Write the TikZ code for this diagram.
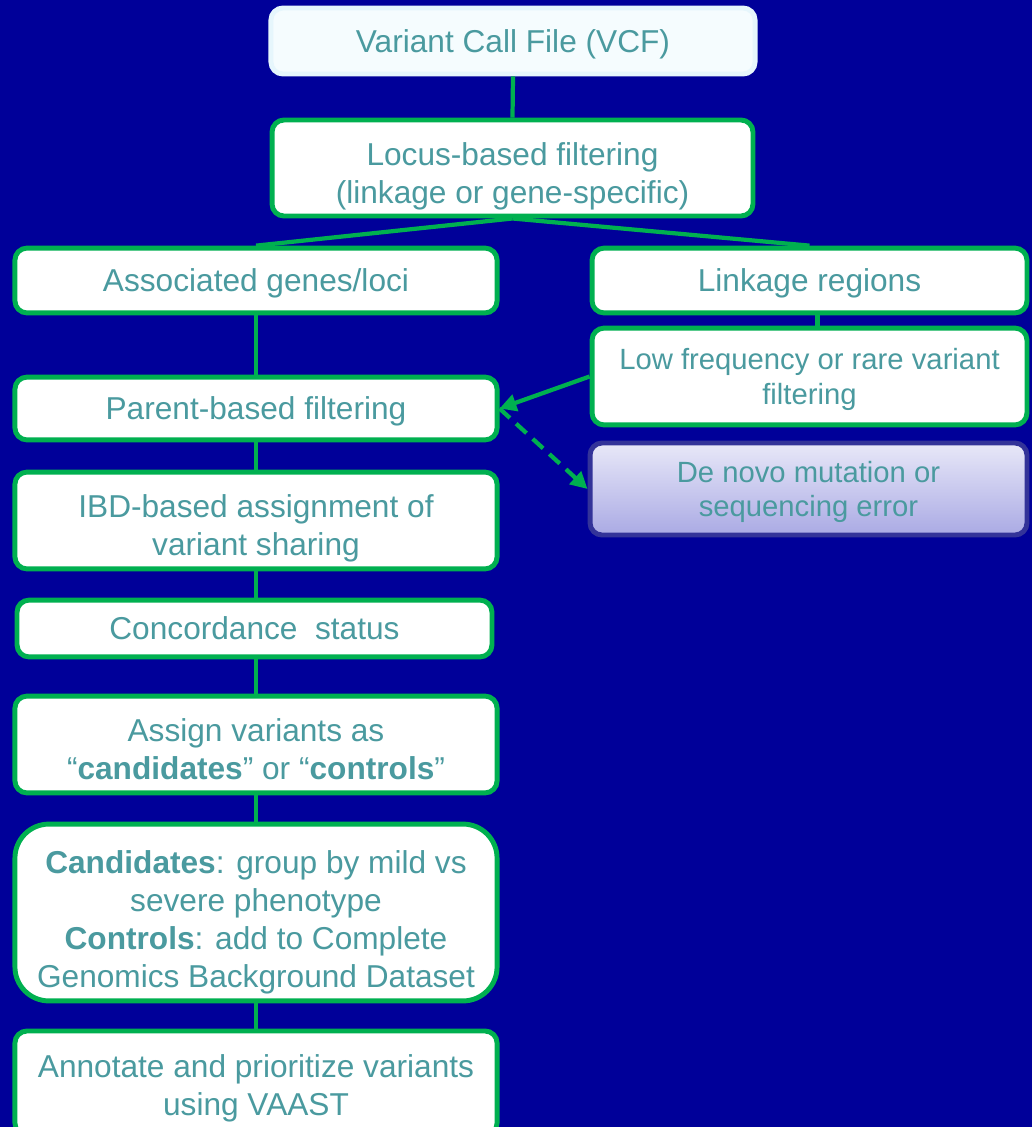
\documentclass[tikz,border=0pt]{standalone}
\usepackage{fontspec}
\setmainfont{Liberation Sans}
\usepackage{xcolor}
\usepackage{tikz}
\usetikzlibrary{calc,arrows.meta}

\definecolor{slidebg}{HTML}{000099}
\definecolor{boxgreen}{HTML}{00B050}
\definecolor{boxtext}{HTML}{4A9A9F}
\definecolor{denovoedge}{HTML}{333399}
\definecolor{denovotop}{HTML}{E8E8F8}
\definecolor{denovobottom}{HTML}{AAAAE4}

\begin{document}
\begin{tikzpicture}[x=0.025cm,y=-0.025cm,
    font=\fontsize{22.5}{27}\selectfont,
    stepbox/.style={draw=boxgreen, line width=3.5pt, fill=white, rounded corners=0.3cm,
      text=boxtext, align=center, inner sep=0pt, text depth=0pt},
    twolines/.style={text height=50pt},
    fourlines/.style={text height=106.5pt},
    smalltext/.style={font=\fontsize{20.8}{24.5}\selectfont},
    link/.style={draw=boxgreen, line width=3pt}]
  \fill[slidebg] (0,0) rectangle (1032,1127);
  \useasboundingbox (0,0) rectangle (1032,1127);

  \node[draw=black!8!cyan!10, fill=cyan!4, line width=3.5pt, rounded corners=0.3cm,
    text=boxtext, text depth=0pt, minimum width=12.1cm, minimum height=1.65cm] (vcf) at (513,41) {Variant Call File (VCF)};
  \node[stepbox, twolines, minimum width=12.02cm, minimum height=2.4cm] (locus) at (512.5,168)
    {Locus-based filtering\\(linkage or gene-specific)};
  \node[stepbox, minimum width=12.05cm, minimum height=1.62cm] (assoc) at (256,280.5) {Associated genes/loci};
  \node[stepbox, minimum width=10.87cm, minimum height=1.62cm] (linkage) at (809.5,280.5) {Linkage regions};
  \node[stepbox, smalltext, minimum width=10.87cm, minimum height=2.42cm] (lowfreq) at (809.5,376.5)
    {Low frequency or rare variant\\filtering};
  \node[stepbox, minimum width=12.05cm, minimum height=1.57cm] (parent) at (256,408.5) {Parent-based filtering};
  \node[draw=denovoedge, line width=3.5pt, top color=denovotop, bottom color=denovobottom, rounded corners=0.3cm,
    smalltext, text depth=0pt, text=boxtext, align=center, minimum width=10.92cm, minimum height=2.3cm] (denovo) at (808.5,489)
    {De novo mutation or\\sequencing error};
  \node[stepbox, twolines, minimum width=12.05cm, minimum height=2.42cm] (ibd) at (256,520.5)
    {IBD-based assignment of\\variant sharing};
  \node[stepbox, minimum width=11.87cm, minimum height=1.42cm] (concord) at (254.5,628.5) {Concordance\ \ status};
  \node[stepbox, twolines, text height=49.5pt, minimum width=12.05cm, minimum height=2.42cm] (assign) at (256,744.5)
    {Assign variants as\\“\textbf{candidates}” or “\textbf{controls}”};
  \node[stepbox, fourlines, rounded corners=0.85cm, minimum width=12.05cm, minimum height=4.42cm] (cand) at (256,912.5)
    {\textbf{Candidates}: group by mild vs\\severe phenotype\\\textbf{Controls}: add to Complete\\Genomics Background Dataset};
  \node[stepbox, text height=46pt, minimum width=12.05cm, minimum height=2.6cm] (annot) at (256,1083)
    {Annotate and prioritize variants\\using VAAST};

  \draw[link] (vcf.south) -- (locus.north);
  \draw[link] (locus.south) -- (assoc.north);
  \draw[link] (locus.south) -- (linkage.north);
  \draw[link] (assoc.south) -- (assoc.south |- parent.north);
  \draw[link] ($(linkage.south)+(8,0)$) -- ($(lowfreq.north)+(8,0)$);
  \draw[link, -{Triangle[length=12pt,width=12pt]}] (lowfreq.west) -- (parent.east);
  \draw[link, dash pattern=on 10pt off 6pt, -{Triangle[length=12pt,width=12pt]}] (parent.east) -- (denovo.west);
  \draw[link] (parent.south) -- (ibd.north);
  \draw[link] (ibd.south) -- (ibd.south |- concord.north);
  \draw[link] (assign.north |- concord.south) -- (assign.north);
  \draw[link] (assign.south) -- (cand.north);
  \draw[link] (cand.south) -- (annot.north);
\end{tikzpicture}
\end{document}
